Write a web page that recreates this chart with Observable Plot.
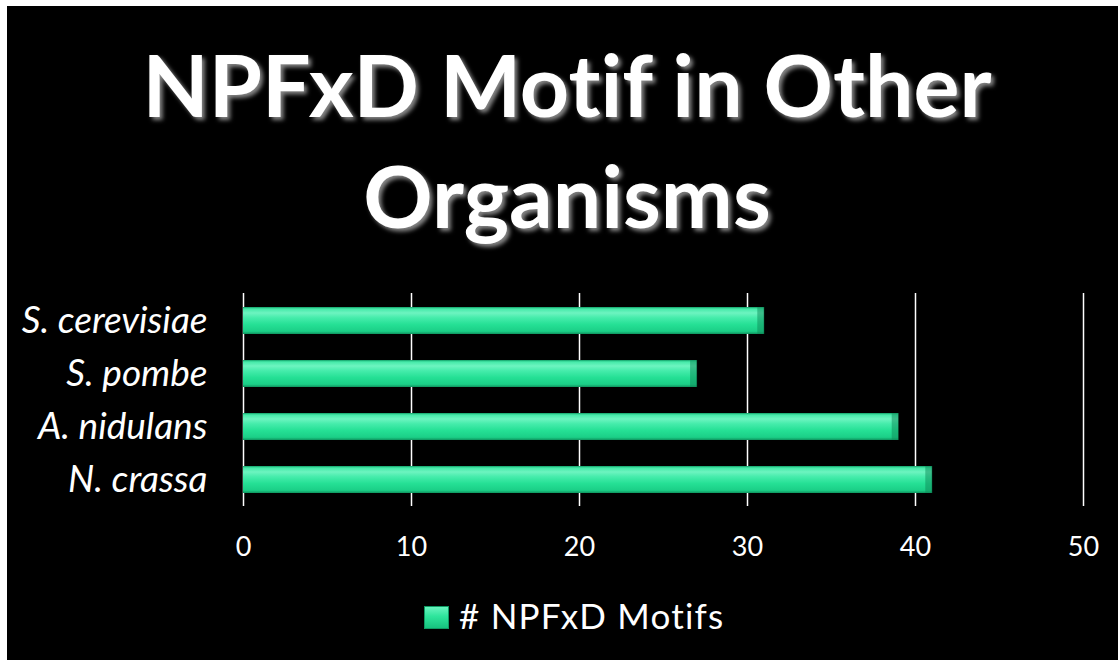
<!DOCTYPE html>
<html>
<head>
<meta charset="utf-8">
<script src="https://cdn.jsdelivr.net/npm/d3@7"></script>
<script src="https://cdn.jsdelivr.net/npm/@observablehq/plot@0.6"></script>
<style>
  html, body { margin: 0; padding: 0; }
  body { width: 1118px; height: 660px; background: #ffffff; position: relative; overflow: hidden; font-family: Lato, "Open Sans", sans-serif; }
  #frame { position: absolute; left: 7px; top: 6px; width: 1111px; height: 654px; background: #000; }
  #title { position: absolute; left: 7px; top: 28px; width: 1120px; text-align: center; color: #fff;
           font-family: Lato, sans-serif; font-weight: 700; font-size: 86px; line-height: 111px;
           font-variant-ligatures: none;
           text-shadow: 3px 3px 4px rgba(150,150,150,0.9); }
  #chart { position: absolute; left: 7px; top: 270px; }
  #legend { position: absolute; left: 0; top: 594px; width: 1118px; height: 42px; }
  #swatch { position: absolute; left: 424px; top: 12px; width: 25px; height: 23px;
            background: linear-gradient(180deg, #6ff5c2 0%, #2ee59c 45%, #15c07c 100%);
            box-shadow: inset 0 0 0 1px #0f9a63; }
  #legtext { position: absolute; left: 459px; top: 0; color: #fff; font-size: 35px; line-height: 42px; letter-spacing: 1.2px; white-space: nowrap; font-variant-ligatures: none; }
  #chart g[aria-label="y-axis tick label"] text { font-style: italic; }
</style>
</head>
<body>
<div id="frame"></div>
<div id="title">NPFxD Motif in Other<br>Organisms</div>
<div id="chart"></div>
<div id="legend"><div id="swatch"></div><div id="legtext"># NPFxD Motifs</div></div>
<script>
const organisms = ["S. cerevisiae", "S. pombe", "A. nidulans", "N. crassa"];
const motifCounts = [31, 27, 39, 41];
const xTicks = [0, 10, 20, 30, 40, 50];
const seriesName = "# NPFxD Motifs";

const data = organisms.map((name, i) => ({name, value: motifCounts[i]}));

const chart = Plot.plot({
  width: 1111,
  height: 300,
  marginLeft: 236,
  marginRight: 35,
  marginTop: 23,
  marginBottom: 64,
  style: {background: "transparent", color: "#fff", fontFamily: "Lato, sans-serif", overflow: "visible"},
  x: {domain: [0, 50], ticks: xTicks, label: null},
  y: {domain: organisms, paddingInner: 0.5, paddingOuter: 0.25, label: null},
  marks: [
    Plot.gridX(xTicks, {stroke: "#fff", strokeOpacity: 1, strokeWidth: 1.5}),
    Plot.barX(data, {x: "value", y: "name", fill: "url(#barGrad)"}),
    Plot.tickX(data, {x: "value", y: "name", dx: -3.5, stroke: "#0d8a57", strokeWidth: 7, strokeOpacity: 0.5}),
    Plot.axisX(xTicks, {tickSize: 0, tickPadding: 30, fontSize: 27, fill: "#fff", label: null, tickFormat: d => String(d)}),
    Plot.axisY({tickSize: 0, tickPadding: 36, fontSize: 37, fontStyle: "italic", fill: "#fff", label: null})
  ]
});

const ns = "http://www.w3.org/2000/svg";
const defs = document.createElementNS(ns, "defs");
defs.innerHTML = `
  <linearGradient id="barGrad" x1="0" y1="0" x2="0" y2="1">
    <stop offset="0" stop-color="#129e67"/>
    <stop offset="0.07" stop-color="#45eaa9"/>
    <stop offset="0.22" stop-color="#6df4c0"/>
    <stop offset="0.4" stop-color="#45ecab"/>
    <stop offset="0.65" stop-color="#25e095"/>
    <stop offset="0.9" stop-color="#1bcf87"/>
    <stop offset="1" stop-color="#0f935e"/>
  </linearGradient>`;
chart.insertBefore(defs, chart.firstChild);
document.getElementById("chart").appendChild(chart);
</script>
</body>
</html>
